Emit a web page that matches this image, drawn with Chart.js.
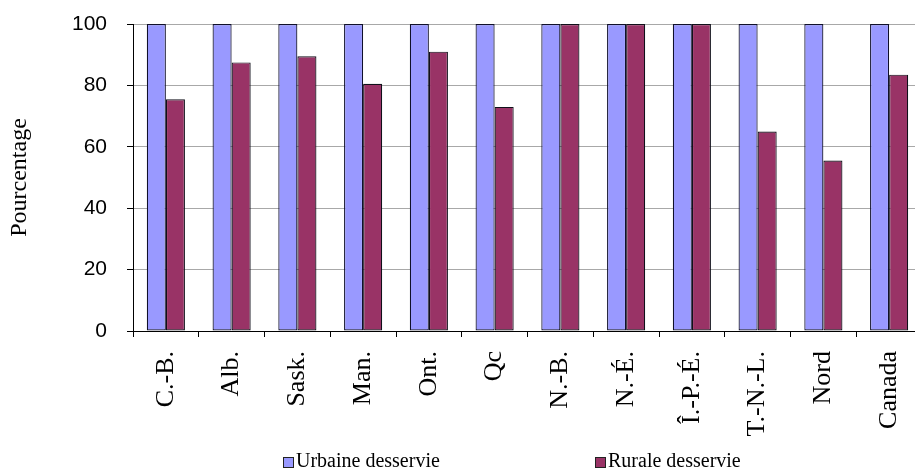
<!DOCTYPE html>
<html>
<head>
<meta charset="utf-8">
<script src="https://cdn.jsdelivr.net/npm/chart.js@4/dist/chart.umd.min.js"></script>
<style>
  html, body { margin: 0; padding: 0; background: #fff; overflow: hidden; }
  #wrap { width: 922px; height: 472px; }
</style>
</head>
<body>
<div id="wrap"><canvas id="c" width="922" height="472"></canvas></div>
<script>
// Provinces / regions
const categories = ['C.-B.', 'Alb.', 'Sask.', 'Man.', 'Ont.', 'Qc', 'N.-B.', 'N.-É.', 'Î.-P.-É.', 'T.-N.-L.', 'Nord', 'Canada'];
// Share of population served (%)
const urbainValues = [100, 100, 100, 100, 100, 100, 100, 100, 100, 100, 100, 100];
const ruraleValues = [75.5, 87.5, 89.5, 80.5, 91, 73, 100, 100, 100, 65, 55.5, 83.5];
const seriesLabels = ['Urbaine desservie', 'Rurale desservie'];
const yTicks = [0, 20, 40, 60, 80, 100];

const colors = ['#9999ff', '#993366'];

// Legend drawn beneath the x-axis labels
const bottomLegend = {
  id: 'bottomLegend',
  afterDraw(chart) {
    const ctx = chart.ctx;
    const slots = [283, 595];
    ctx.save();
    ctx.font = '20px "Liberation Serif", "Times New Roman", serif';
    ctx.textBaseline = 'middle';
    ctx.textAlign = 'left';
    chart.data.datasets.forEach((ds, i) => {
      const x = slots[i];
      const y = 462;
      ctx.fillStyle = ds.backgroundColor;
      ctx.fillRect(x, y - 5, 10, 10);
      ctx.strokeStyle = '#222';
      ctx.lineWidth = 1;
      ctx.strokeRect(x + 0.5, y - 4.5, 10, 10);
      ctx.fillStyle = '#000';
      ctx.fillText(ds.label, x + 13, y);
    });
    ctx.restore();
  }
};

new Chart(document.getElementById('c'), {
  type: 'bar',
  data: {
    labels: categories,
    datasets: [
      { label: seriesLabels[0], data: urbainValues, backgroundColor: colors[0], borderColor: '#10102a', borderWidth: 1.2, borderSkipped: false },
      { label: seriesLabels[1], data: ruraleValues, backgroundColor: colors[1], borderColor: '#10101a', borderWidth: 1.2, borderSkipped: false }
    ]
  },
  options: {
    responsive: false,
    animation: false,
    layout: { padding: { top: 24, left: 0, right: 0, bottom: 0 } },
    datasets: { bar: { categoryPercentage: 0.58, barPercentage: 1.0 } },
    plugins: { legend: { display: false }, tooltip: { enabled: false } },
    scales: {
      x: {
        grid: { drawOnChartArea: false, drawTicks: true, tickLength: 6, color: '#000', tickColor: '#000', offset: true },
        border: { color: '#000', width: 1 },
        ticks: {
          minRotation: 90, maxRotation: 90, autoSkip: false, padding: 14,
          color: '#000',
          font: { family: '"Liberation Serif", "Times New Roman", serif', size: 26 }
        },
        afterFit(scale) { scale.height = 141; scale.paddingLeft = 0; scale.paddingRight = 0; }
      },
      y: {
        min: 0, max: 100,
        afterBuildTicks(scale) { scale.ticks = yTicks.map(v => ({ value: v })); },
        grid: { color: '#a8a8a8', tickColor: '#000', tickLength: 6, lineWidth: 1 },
        border: { color: '#000', width: 1 },
        ticks: {
          padding: 20, color: '#000',
          font: { family: '"Liberation Sans", Arial, sans-serif', size: 21 }
        },
        title: {
          display: true, text: 'Pourcentage', color: '#000',
          padding: { top: 5, bottom: 0 },
          font: { family: '"Liberation Serif", "Times New Roman", serif', size: 24 }
        },
        afterFit(scale) { scale.width = 133; scale.paddingTop = 0; scale.paddingBottom = 0; }
      }
    }
  },
  plugins: [bottomLegend]
});
</script>
</body>
</html>
